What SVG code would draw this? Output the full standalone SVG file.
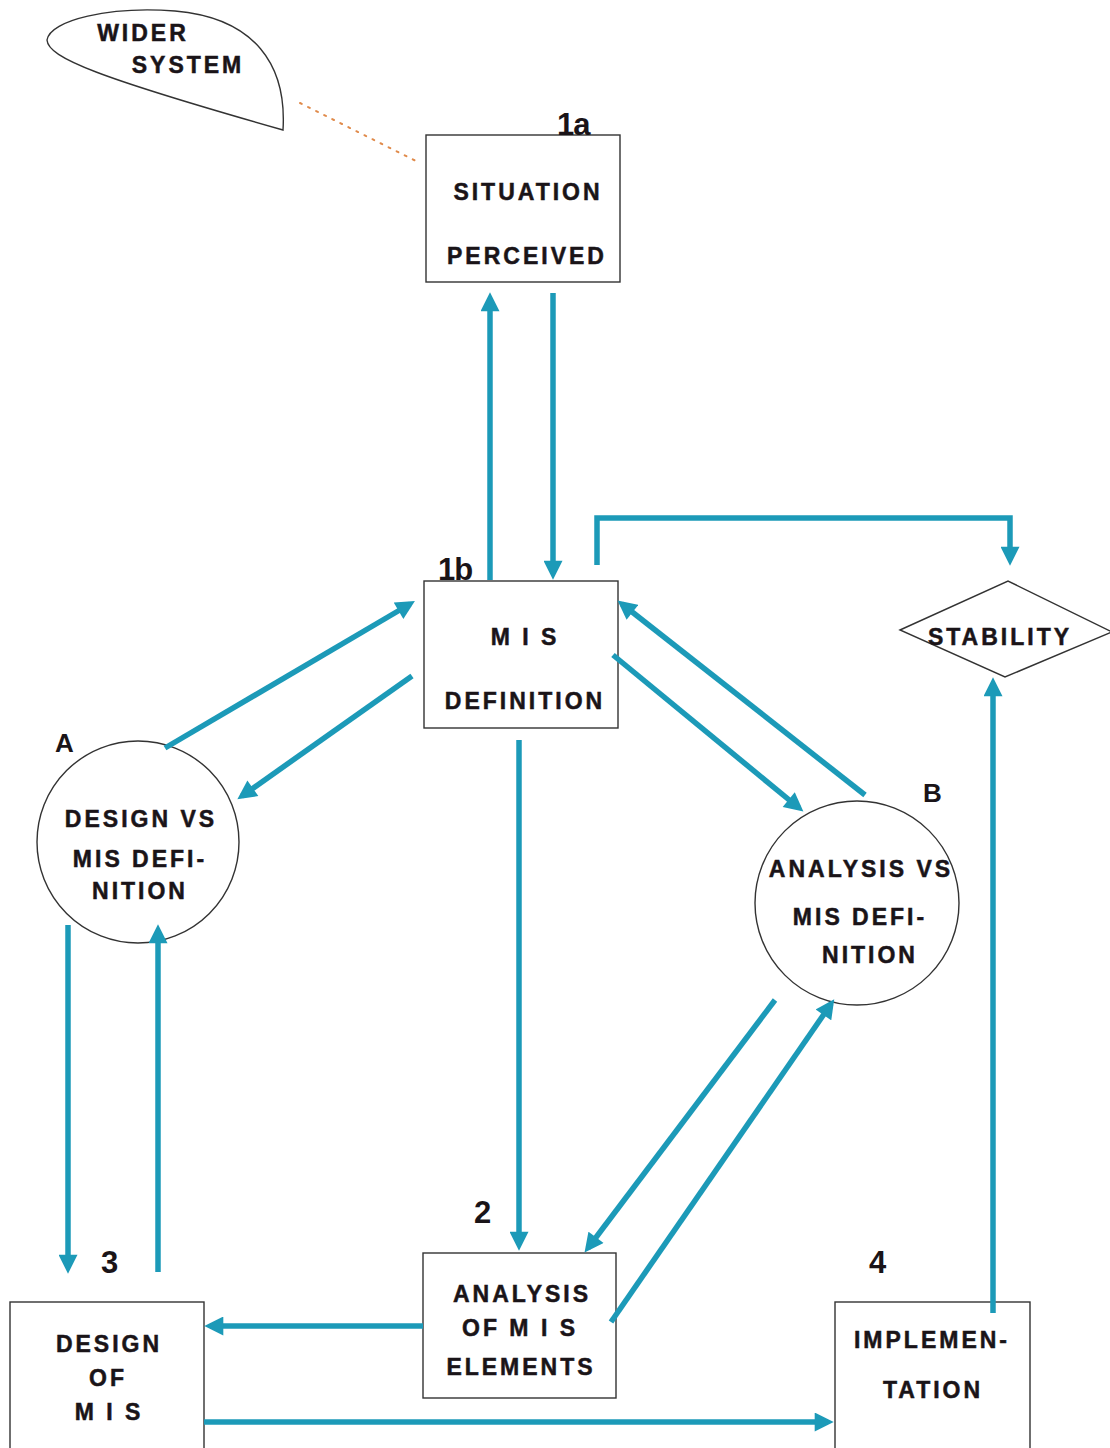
<svg xmlns="http://www.w3.org/2000/svg" width="1110" height="1448" viewBox="0 0 1110 1448">
  <defs>
    <style>
      .box { fill: #ffffff; stroke: #333333; stroke-width: 1.4; }
      .shape { fill: none; stroke: #333333; stroke-width: 1.4; }
      .lbl { font-family: "Liberation Sans", Arial, sans-serif; font-weight: bold; font-size: 23px; letter-spacing: 3px; fill: #1a1418; stroke: #1a1418; stroke-width: 0.5; text-anchor: middle; }
      .num { font-family: "Liberation Sans", Arial, sans-serif; font-weight: bold; font-size: 31px; fill: #1a1418; letter-spacing: -1px; }
      .letter { font-family: "Liberation Sans", Arial, sans-serif; font-weight: bold; font-size: 26px; fill: #1a1418; }
      .flow { fill: none; stroke: #1c9ab8; stroke-width: 5.5; }
    </style>
    <marker id="head" viewBox="0 0 10 10" refX="7" refY="5" markerWidth="20" markerHeight="19" markerUnits="userSpaceOnUse" orient="auto">
      <path d="M0,0 L10,5 L0,10 Z" fill="#1c9ab8"/>
    </marker>
  </defs>
  <rect width="1110" height="1448" fill="#ffffff"/>

  <!-- wider system -->
  <g id="wider-system">
    <path class="shape" d="M283,130 C287,65 255,18 175,11 C110,6 50,20 47,40 C48,58 100,78 283,130 Z"/>
    <text class="lbl" x="143" y="41">WIDER</text>
    <text class="lbl" x="188" y="73">SYSTEM</text>
  </g>
  <line x1="300" y1="103" x2="420" y2="163" stroke="#e08a4a" stroke-width="2" stroke-dasharray="2 7" stroke-linecap="round"/>

  <!-- 1a -->
  <g id="situation-perceived">
    <rect class="box" x="426" y="135" width="194" height="147"/>
    <text class="num" x="557" y="135">1a</text>
    <text class="lbl" x="528" y="200">SITUATION</text>
    <text class="lbl" x="527" y="264">PERCEIVED</text>
  </g>

  <!-- 1b -->
  <g id="mis-definition">
    <rect class="box" x="424" y="581" width="194" height="147"/>
    <text class="num" x="438" y="580">1b</text>
    <text class="lbl" x="525" y="645">M I S</text>
    <text class="lbl" x="525" y="709">DEFINITION</text>
  </g>

  <!-- stability -->
  <g id="stability">
    <polygon class="shape" points="900,630 1008,581 1112,632 1005,677"/>
    <text class="lbl" x="1000" y="645">STABILITY</text>
  </g>

  <!-- A -->
  <g id="design-vs-definition">
    <circle class="shape" cx="138" cy="842" r="101"/>
    <text class="letter" x="55" y="752">A</text>
    <text class="lbl" x="141" y="827">DESIGN VS</text>
    <text class="lbl" x="140" y="867">MIS DEFI-</text>
    <text class="lbl" x="140" y="899">NITION</text>
  </g>

  <!-- B -->
  <g id="analysis-vs-definition">
    <circle class="shape" cx="857" cy="903" r="102"/>
    <text class="letter" x="923" y="802">B</text>
    <text class="lbl" x="861" y="877">ANALYSIS VS</text>
    <text class="lbl" x="860" y="925">MIS DEFI-</text>
    <text class="lbl" x="870" y="963">NITION</text>
  </g>

  <!-- 2 -->
  <g id="analysis-of-elements">
    <rect class="box" x="423" y="1253" width="193" height="145"/>
    <text class="num" x="474" y="1223">2</text>
    <text class="lbl" x="522" y="1302">ANALYSIS</text>
    <text class="lbl" x="520" y="1336">OF M I S</text>
    <text class="lbl" x="521" y="1375">ELEMENTS</text>
  </g>

  <!-- 3 -->
  <g id="design-of-mis">
    <rect class="box" x="10" y="1302" width="194" height="150"/>
    <text class="num" x="101" y="1273">3</text>
    <text class="lbl" x="109" y="1352">DESIGN</text>
    <text class="lbl" x="108" y="1386">OF</text>
    <text class="lbl" x="109" y="1420">M I S</text>
  </g>

  <!-- 4 -->
  <g id="implementation">
    <rect class="box" x="835" y="1302" width="195" height="150"/>
    <text class="num" x="869" y="1273">4</text>
    <text class="lbl" x="932" y="1348">IMPLEMEN-</text>
    <text class="lbl" x="933" y="1398">TATION</text>
  </g>

  <!-- connectors -->
  <g id="connectors">
    <line class="flow" x1="490" y1="580" x2="490" y2="298" marker-end="url(#head)"/>
    <line class="flow" x1="553" y1="293" x2="553" y2="574" marker-end="url(#head)"/>
    <polyline class="flow" points="597,565 597,518 1010,518 1010,560" marker-end="url(#head)"/>
    <line class="flow" x1="993" y1="1313" x2="993" y2="683" marker-end="url(#head)"/>
    <line class="flow" x1="165" y1="748" x2="410" y2="604" marker-end="url(#head)"/>
    <line class="flow" x1="412" y1="676" x2="242" y2="796" marker-end="url(#head)"/>
    <line class="flow" x1="613" y1="655" x2="799" y2="808" marker-end="url(#head)"/>
    <line class="flow" x1="865" y1="795" x2="622" y2="604" marker-end="url(#head)"/>
    <line class="flow" x1="519" y1="740" x2="519" y2="1245" marker-end="url(#head)"/>
    <line class="flow" x1="68" y1="925" x2="68" y2="1268" marker-end="url(#head)"/>
    <line class="flow" x1="158" y1="1272" x2="158" y2="930" marker-end="url(#head)"/>
    <line class="flow" x1="775" y1="1000" x2="588" y2="1248" marker-end="url(#head)"/>
    <line class="flow" x1="611" y1="1322" x2="831" y2="1004" marker-end="url(#head)"/>
    <line class="flow" x1="423" y1="1326" x2="210" y2="1326" marker-end="url(#head)"/>
    <line class="flow" x1="204" y1="1422" x2="828" y2="1422" marker-end="url(#head)"/>
  </g>
</svg>
